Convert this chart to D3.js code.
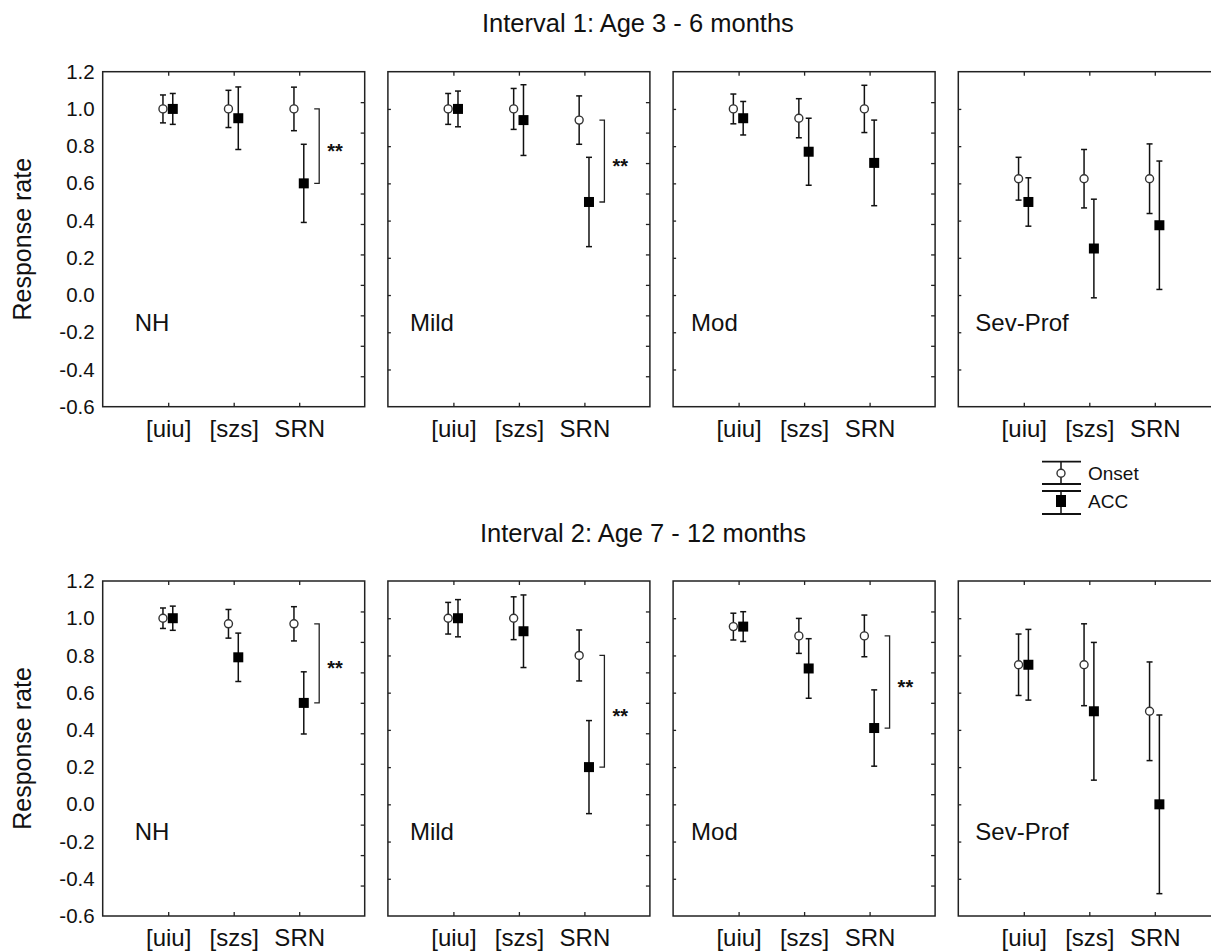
<!DOCTYPE html>
<html>
<head>
<meta charset="utf-8">
<script src="https://d3js.org/d3.v7.min.js"></script>
<style>
body { margin: 0; background: #fff; }
text { font-family: "Liberation Sans", Arial, sans-serif; fill: #111; }
</style>
</head>
<body>
<script>
// chart data
var categories = ['[uiu]', '[szs]', 'SRN'];
var groups = ['NH', 'Mild', 'Mod', 'Sev-Prof'];
var titles = ['Interval 1: Age 3 - 6 months', 'Interval 2: Age 7 - 12 months'];
var yTicks = [1.2, 1.0, 0.8, 0.6, 0.4, 0.2, 0.0, -0.2, -0.4, -0.6];

// Interval 1 (rows = groups, cols = categories)
var onsetMean1 = [[1, 1, 1], [1, 1, 0.94], [1, 0.95, 1], [0.625, 0.625, 0.625]];
var onsetErr1 = [[0.075, 0.1, 0.117], [0.083, 0.11, 0.13], [0.08, 0.105, 0.127], [0.115, 0.157, 0.187]];
var accMean1 = [[1, 0.95, 0.6], [1, 0.94, 0.5], [0.95, 0.77, 0.71], [0.5, 0.25, 0.375]];
var accErr1 = [[0.083, 0.168, 0.21], [0.096, 0.19, 0.24], [0.09, 0.18, 0.23], [0.13, 0.265, 0.345]];
var signif1 = [0, 1]; // groups with ** on SRN

// Interval 2
var onsetMean2 = [[1, 0.97, 0.97], [1, 1, 0.8], [0.955, 0.905, 0.905], [0.75, 0.75, 0.5]];
var onsetErr2 = [[0.055, 0.077, 0.092], [0.085, 0.115, 0.137], [0.072, 0.094, 0.112], [0.165, 0.22, 0.265]];
var accMean2 = [[1, 0.79, 0.545], [1, 0.93, 0.2], [0.955, 0.73, 0.41], [0.75, 0.5, 0]];
var accErr2 = [[0.065, 0.13, 0.167], [0.1, 0.195, 0.25], [0.08, 0.16, 0.205], [0.19, 0.37, 0.48]];
var signif2 = [0, 1, 2];

var legendLabels = ['Onset', 'ACC'];

// layout
var svgWidth = 1211, svgHeight = 951;
var panelW = 262, panelH = 335;
var panelStep = 285.2;
var panelLeft0 = 102.7;
var rowTop = [71.7, 581];
var titleX = [482, 480], titleY = [32, 541.5];
var labelOffset = [32, 22, 18, 17];

var svg = d3.select('body').append('svg')
  .attr('width', svgWidth)
  .attr('height', svgHeight);

var rows = [
  {om: onsetMean1, oe: onsetErr1, am: accMean1, ae: accErr1, sig: signif1},
  {om: onsetMean2, oe: onsetErr2, am: accMean2, ae: accErr2, sig: signif2}
];

var y = d3.scaleLinear().domain([-0.6, 1.2]);
var yRight = d3.scaleLinear().domain([0, 1.1]);

// plain hyphen for negatives like the original
function fmt(d) { return d.toFixed(1).replace('\u2212', '-'); }

function drawBar(g, cx, yv, err, cap) {
  g.append('line')
    .attr('x1', cx).attr('x2', cx)
    .attr('y1', y(yv + err)).attr('y2', y(yv - err))
    .attr('stroke', '#111').attr('stroke-width', 1.5);
  [yv + err, yv - err].forEach(function(v) {
    g.append('line')
      .attr('x1', cx - cap).attr('x2', cx + cap)
      .attr('y1', y(v)).attr('y2', y(v))
      .attr('stroke', '#111').attr('stroke-width', 1.5);
  });
}

rows.forEach(function(row, r) {
  var top = rowTop[r];
  y.range([top + panelH, top]);
  yRight.range([top + panelH, top]);

  svg.append('text')
    .attr('x', titleX[r]).attr('y', titleY[r])
    .style('font-size', '25.5px')
    .text(titles[r]);

  // y label
  svg.append('text')
    .attr('transform', 'translate(31,' + (top + panelH / 2) + ') rotate(-90)')
    .attr('text-anchor', 'middle')
    .style('font-size', '25px')
    .text('Response rate');

  groups.forEach(function(grp, p) {
    var left = panelLeft0 + p * panelStep;
    var x = d3.scaleLinear().domain([0, 4]).range([left, left + panelW]);
    var g = svg.append('g');

    // left axis
    if (p == 0) {
      var la = g.append('g')
        .attr('transform', 'translate(' + left + ',0)')
        .call(d3.axisLeft(y).tickValues(yTicks).tickSize(0).tickPadding(8)
          .tickFormat(fmt));
      la.selectAll('text').style('font-size', '20.5px').style('font-family', '"Liberation Sans", Arial, sans-serif').attr('fill', '#111');
      la.select('.domain').remove();
    } else {
      var la2 = g.append('g')
        .attr('transform', 'translate(' + left + ',0)')
        .call(d3.axisLeft(y).tickValues(yTicks.slice(1, -1)).tickSize(-3).tickFormat(''));
      la2.select('.domain').remove();
      la2.selectAll('line').attr('stroke', '#222').attr('stroke-width', 1.3);
    }

    // right axis (secondary ticks)
    var ra = g.append('g')
      .attr('transform', 'translate(' + (left + panelW) + ',0)')
      .call(d3.axisRight(yRight).tickValues(d3.range(1, 11).map(function(d) { return d / 10; }))
        .tickSize(-4).tickFormat(''));
    ra.select('.domain').remove();
    ra.selectAll('line').attr('stroke', '#222').attr('stroke-width', 1.3);

    // top axis
    var ta = g.append('g')
      .attr('transform', 'translate(0,' + top + ')')
      .call(d3.axisTop(x).tickValues([1, 2, 3]).tickSize(-4).tickFormat(''));
    ta.select('.domain').remove();
    ta.selectAll('line').attr('stroke', '#222').attr('stroke-width', 1.3);

    // bottom axis with category labels
    var ba = g.append('g')
      .attr('transform', 'translate(0,' + (top + panelH) + ')')
      .call(d3.axisBottom(x).tickValues([1, 2, 3]).tickSize(-4).tickPadding(13)
        .tickFormat(function(d) { return categories[d - 1]; }));
    ba.select('.domain').remove();
    ba.selectAll('line').attr('stroke', '#222').attr('stroke-width', 1.3);
    ba.selectAll('text').style('font-size', '24px').style('font-family', '"Liberation Sans", Arial, sans-serif').attr('fill', '#111');

    // frame
    g.append('rect')
      .attr('x', left).attr('y', top)
      .attr('width', panelW).attr('height', panelH)
      .attr('fill', 'none').attr('stroke', '#222').attr('stroke-width', 1.5);

    // group label
    g.append('text')
      .attr('x', left + labelOffset[p]).attr('y', y(-0.145) + 8.6)
      .style('font-size', '24px')
      .text(grp);

    // error bars
    categories.forEach(function(c, i) {
      drawBar(g, x(i + 1 - 0.08), row.om[p][i], row.oe[p][i], 3);
      drawBar(g, x(i + 1 + 0.07), row.am[p][i], row.ae[p][i], 3);
    });

    // onset circles
    g.selectAll('circle.onset')
      .data(row.om[p])
      .enter().append('circle')
      .attr('cx', function(d, i) { return x(i + 1 - 0.08); })
      .attr('cy', function(d) { return y(d); })
      .attr('r', 4)
      .attr('fill', '#fff')
      .attr('stroke', '#333').attr('stroke-width', 1.4);

    // acc squares
    g.selectAll('rect.acc')
      .data(row.am[p])
      .enter().append('rect')
      .attr('x', function(d, i) { return x(i + 1 + 0.07) - 5; })
      .attr('y', function(d) { return y(d) - 5; })
      .attr('width', 10).attr('height', 10)
      .attr('fill', '#000');

    // significance bracket on SRN
    if (row.sig.indexOf(p) >= 0) {
      var bx = x(3) + 20;
      var v1 = row.om[p][2], v2 = row.am[p][2];
      g.append('path')
        .attr('d', 'M' + (bx - 5) + ',' + y(v1) + 'H' + bx + 'V' + y(v2) + 'H' + (bx - 5))
        .attr('fill', 'none').attr('stroke', '#222').attr('stroke-width', 1.3);
      g.append('text')
        .attr('x', bx + 8).attr('y', y((v1 + v2) / 2) + 12)
        .style('font-size', '20px').style('font-weight', 'bold')
        .text('**');
    }
  });
});

// legend
var lg = svg.append('g');
var lx = 1061;
var legendY = [[461.7, 484, 473.3], [491, 514, 501]];
legendY.forEach(function(d, i) {
  lg.append('line').attr('x1', lx).attr('x2', lx).attr('y1', d[0]).attr('y2', d[1])
    .attr('stroke', '#111').attr('stroke-width', 1.5);
  [d[0], d[1]].forEach(function(v) {
    lg.append('line').attr('x1', lx - 19).attr('x2', lx + 20).attr('y1', v).attr('y2', v)
      .attr('stroke', '#111').attr('stroke-width', 1.8);
  });
  if (i == 0) {
    lg.append('circle').attr('cx', lx).attr('cy', d[2]).attr('r', 4)
      .attr('fill', '#fff').attr('stroke', '#333').attr('stroke-width', 1.4);
  } else {
    lg.append('rect').attr('x', lx - 5).attr('y', d[2] - 6).attr('width', 10).attr('height', 12)
      .attr('fill', '#000');
  }
  lg.append('text').attr('x', 1088).attr('y', d[2] + 7)
    .style('font-size', '19px')
    .text(legendLabels[i]);
});
</script>
</body>
</html>
